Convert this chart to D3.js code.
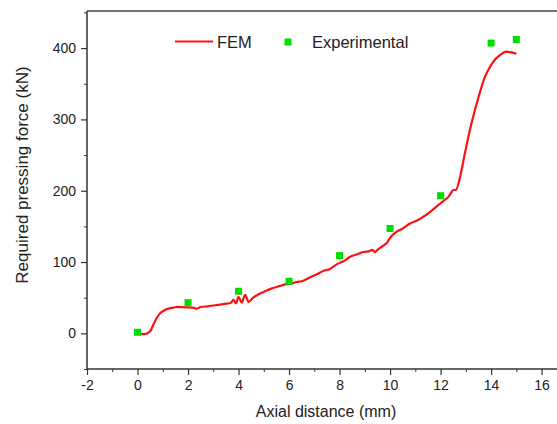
<!DOCTYPE html>
<html lang="en">
<head>
  <meta charset="UTF-8">
  <title>Pressing force vs axial distance</title>
  <script src="https://d3js.org/d3.v7.min.js"></script>
  <style>
    html, body {
      margin: 0;
      padding: 0;
      background: #fff;
    }
    text {
      font-family: "Liberation Sans", Arial, sans-serif;
      fill: #222;
    }
    .axis path, .axis line {
      stroke: #333;
    }
  </style>
</head>
<body>
  <div id="container"></div>
  <script>
    // FEM curve
    const femX = [0, 0.15, 0.3, 0.5, 0.69, 0.89, 1.05, 1.2, 1.4, 1.6, 1.9, 2.2, 2.35, 2.5, 2.8, 3.0, 3.2, 3.4, 3.53, 3.7, 3.8, 3.9, 4.0, 4.13, 4.26, 4.4, 4.58, 4.72, 4.85, 5.0, 5.25, 5.6, 5.9, 6.1, 6.3, 6.5, 6.8, 7.1, 7.4, 7.6, 7.9, 8.2, 8.4, 8.7, 8.94, 9.15, 9.3, 9.4, 9.5, 9.73, 9.9, 10.0, 10.2, 10.5, 10.79, 11.05, 11.5, 11.98, 12.2, 12.3, 12.4, 12.5, 12.6, 12.77, 12.95, 13.16, 13.43, 13.6, 13.76, 13.9, 14.09, 14.35, 14.6, 14.8, 15.0]
    const femY = [0, -1, -1, 3, 17, 28, 32, 34.5, 36, 37, 36.5, 36, 34.5, 37, 38, 39, 40, 41, 41.6, 43, 47, 42, 51, 43, 54, 44, 50, 53, 56, 58, 62, 66, 69, 70, 72, 73, 78, 83, 88, 90, 97, 102, 107, 111, 114, 115, 117, 114, 117, 123, 128, 134, 141, 147, 154, 158, 168, 182, 188, 191, 196, 201, 201, 219, 250, 285, 322, 343, 360, 370, 381, 390, 395, 394, 392]

    // experimental points
    const expX = [0, 2, 4, 6, 8, 10, 12, 14, 15]
    const expY = [1.5, 43, 59, 73, 109, 147, 193, 407, 412]

    const xMajor = [-2, 0, 2, 4, 6, 8, 10, 12, 14, 16]
    const xMinor = [-1, 1, 3, 5, 7, 9, 11, 13, 15]
    const yMajor = [0, 100, 200, 300, 400]
    const yMinor = [-50, 50, 150, 250, 350, 450]

    const width = 557
    const height = 424
    const plot = {left: 87, top: 11, right: 557, bottom: 369}

    const svg = d3.select('#container').append('svg')
      .attr('width', width).attr('height', height)

    const xScale = d3.scaleLinear().domain([-2, 16.61]).range([plot.left, plot.right])
    const yScale = d3.scaleLinear().domain([-50, 452]).range([plot.bottom, plot.top])

    // plain hyphen for negatives, like the original
    const fmt = d => String(d)

    // top frame line
    svg.append('line')
      .attr('x1', plot.left).attr('x2', plot.right)
      .attr('y1', plot.top).attr('y2', plot.top)
      .attr('stroke', '#444').attr('stroke-width', 1.5)

    // x axis
    const xAxis = d3.axisBottom(xScale).tickValues(xMajor).tickSize(6).tickPadding(5).tickFormat(fmt)
    const gx = svg.append('g').attr('class', 'axis')
      .attr('transform', `translate(0,${plot.bottom})`)
      .call(xAxis)
    gx.select('.domain').attr('stroke-width', 1.5).attr('d', `M${plot.left},0H${plot.right}`)
    gx.selectAll('text').style('font-size', '14px')
    gx.selectAll('.tick line').attr('stroke-width', 1.2)
    const gxm = svg.append('g').attr('class', 'axis')
      .attr('transform', `translate(0,${plot.bottom})`)
      .call(d3.axisBottom(xScale).tickValues(xMinor).tickSize(3).tickFormat(''))
    gxm.select('.domain').remove()

    // y axis
    const yAxis = d3.axisLeft(yScale).tickValues(yMajor).tickSize(6).tickPadding(5).tickFormat(fmt)
    const gy = svg.append('g').attr('class', 'axis')
      .attr('transform', `translate(${plot.left},0)`)
      .call(yAxis)
    gy.select('.domain').attr('stroke-width', 1.5).attr('d', `M0,${plot.bottom}V${plot.top}`)
    gy.selectAll('text').style('font-size', '14px')
    gy.selectAll('.tick line').attr('stroke-width', 1.2)
    const gym = svg.append('g').attr('class', 'axis')
      .attr('transform', `translate(${plot.left},0)`)
      .call(d3.axisLeft(yScale).tickValues(yMinor).tickSize(3).tickFormat(''))
    gym.select('.domain').remove()

    // axis titles
    svg.append('text')
      .attr('x', 326).attr('y', 417)
      .attr('text-anchor', 'middle')
      .style('font-size', '16px')
      .text('Axial distance (mm)')

    svg.append('text')
      .attr('transform', `translate(28,175) rotate(-90)`)
      .attr('text-anchor', 'middle')
      .style('font-size', '17px')
      .text('Required pressing force (kN)')

    // FEM line
    const femData = femX.map((x, i) => ({x: x, y: femY[i]}))
    const line = d3.line().x(d => xScale(d.x)).y(d => yScale(d.y)).curve(d3.curveMonotoneX)
    svg.append('path')
      .datum(femData)
      .attr('d', line)
      .attr('fill', 'none')
      .attr('stroke', '#ff1010')
      .attr('stroke-width', 2.2)
      .attr('stroke-linejoin', 'round')

    // experimental squares
    const ms = 7
    svg.selectAll('.exp').data(expX.map((x, i) => ({x: x, y: expY[i]})))
      .enter().append('rect')
      .attr('class', 'exp')
      .attr('x', d => xScale(d.x) - ms / 2)
      .attr('y', d => yScale(d.y) - ms / 2)
      .attr('width', ms).attr('height', ms)
      .attr('fill', '#00dd00')

    // legend
    const legend = svg.append('g')
    legend.append('line')
      .attr('x1', 175).attr('x2', 213).attr('y1', 41.5).attr('y2', 41.5)
      .attr('stroke', '#ff1010').attr('stroke-width', 2.2)
    legend.append('text')
      .attr('x', 217).attr('y', 47.5)
      .style('font-size', '16.5px')
      .text('FEM')
    legend.append('rect')
      .attr('x', 288 - ms / 2).attr('y', 42 - ms / 2)
      .attr('width', ms).attr('height', ms)
      .attr('fill', '#00dd00')
    legend.append('text')
      .attr('x', 312).attr('y', 47.5)
      .style('font-size', '16.5px')
      .text('Experimental')
  </script>
</body>
</html>
